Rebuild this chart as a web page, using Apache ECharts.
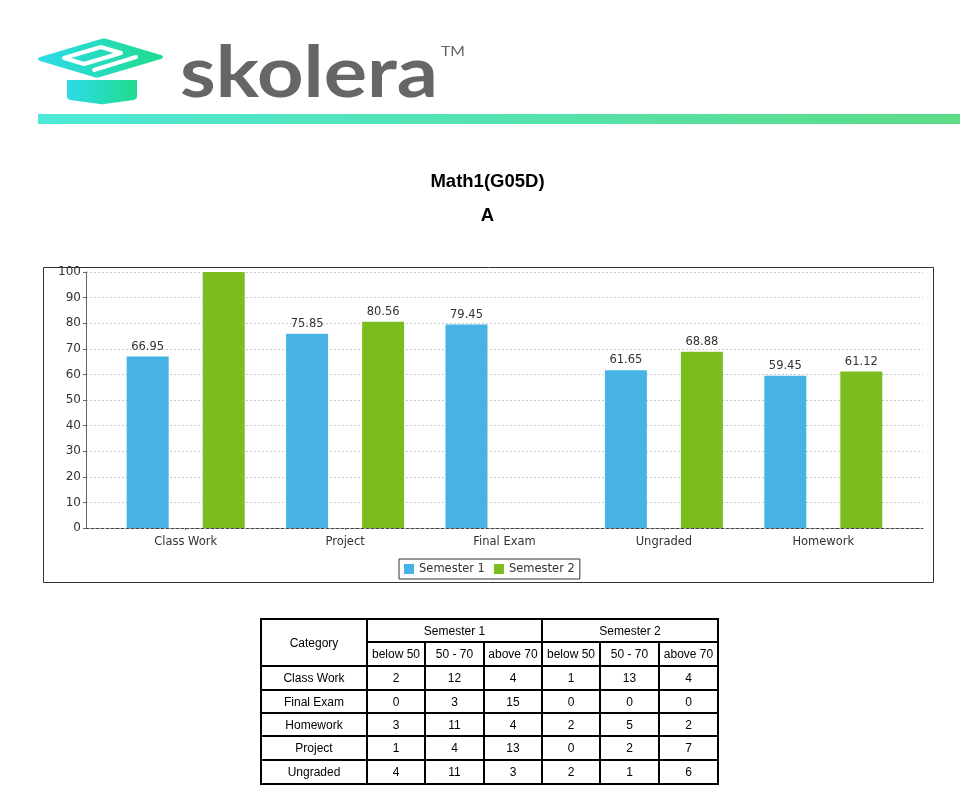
<!DOCTYPE html>
<html>
<head>
<meta charset="utf-8">
<script src="https://cdn.jsdelivr.net/npm/echarts/dist/echarts.min.js"></script>
<style>
  html, body { margin: 0; padding: 0; background: #fff; }
  #page { position: relative; width: 975px; height: 807px; overflow: hidden; }
  #chart { position: absolute; left: 0; top: 0; width: 975px; height: 807px; }
  #logo { position: absolute; left: 0; top: 0; width: 975px; height: 130px; }
  #tbl { position: absolute; left: 260px; top: 618px; border-collapse: collapse; table-layout: fixed;
         font-family: "Liberation Sans", Arial, sans-serif; font-size: 12px; color: #000; }
  #tbl td { border: 2px solid #000; text-align: center; padding: 0; font-weight: normal; }
</style>
</head>
<body>
<div id="page">
  <div id="chart"></div>
  <svg id="logo" width="975" height="130" xmlns="http://www.w3.org/2000/svg">
    <defs>
      <linearGradient id="capg" x1="0" y1="0" x2="1" y2="0">
        <stop offset="0" stop-color="#2ddbe9"/>
        <stop offset="1" stop-color="#1fdc8e"/>
      </linearGradient>
      <linearGradient id="barg" x1="0" y1="0" x2="1" y2="0">
        <stop offset="0" stop-color="#4de8d8"/>
        <stop offset="1" stop-color="#5cdc86"/>
      </linearGradient>
    </defs>
    <path d="M40 57 L101 39 Q104 38 107 39 L161 55 Q165 57 161 59 L100 77 Q97 78 94 77 L40 61 Q36 59 40 57 Z" fill="url(#capg)"/>
    <path d="M64 58 L101 47 L121 53 L84 64 Z" fill="none" stroke="#fff" stroke-width="4" stroke-linejoin="round"/>
    <path d="M94 70 L136 57" fill="none" stroke="#fff" stroke-width="4" stroke-linecap="round"/>
    <path d="M67 80 L137 80 L137 97 Q137 99 134 100 L104 104 Q102 104.5 100 104 L70 100 Q67 99 67 97 Z" fill="url(#capg)"/>
    <text x="180" y="97" font-family="Lato, 'Open Sans', sans-serif" font-weight="bold" font-size="70" fill="#666" textLength="258" lengthAdjust="spacingAndGlyphs">skolera</text>
    <text x="441" y="56" font-family="Lato, 'Open Sans', sans-serif" font-size="14" fill="#666" textLength="24" lengthAdjust="spacingAndGlyphs">TM</text>
    <rect x="38" y="114" width="922" height="10" fill="url(#barg)"/>
  </svg>
  <table id="tbl"></table>
</div>
<script>
// ---- chart data ----
const categories = ['Class Work', 'Project', 'Final Exam', 'Ungraded', 'Homework'];
const semester1 = [66.95, 75.85, 79.45, 61.65, 59.45];
const semester2 = [100, 80.56, null, 68.88, 61.12];
const seriesNames = ['Semester 1', 'Semester 2'];
const titleMain = 'Math1(G05D)';
const titleSub = 'A';

// ---- table data ----
const tableCategories = ['Class Work', 'Final Exam', 'Homework', 'Project', 'Ungraded'];
const bandLabels = ['below 50', '50 - 70', 'above 70'];
const s1Below50 = [2, 0, 3, 1, 4];
const s1Mid = [12, 3, 11, 4, 11];
const s1Above70 = [4, 15, 4, 13, 3];
const s2Below50 = [1, 0, 2, 0, 2];
const s2Mid = [13, 0, 5, 2, 1];
const s2Above70 = [4, 0, 2, 7, 6];

// build table
(function () {
  const colW = [106, 58, 59, 58, 58, 59, 59];
  const rowH = [23, 24, 24, 23, 23, 24, 24];
  let h = '<colgroup>' + colW.map(w => '<col style="width:' + w + 'px">').join('') + '</colgroup>';
  h += '<tr style="height:' + rowH[0] + 'px"><td rowspan="2">Category</td>' +
       '<td colspan="3">' + seriesNames[0] + '</td><td colspan="3">' + seriesNames[1] + '</td></tr>';
  h += '<tr style="height:' + rowH[1] + 'px">' + bandLabels.concat(bandLabels).map(b => '<td>' + b + '</td>').join('') + '</tr>';
  tableCategories.forEach((c, i) => {
    const vals = [s1Below50[i], s1Mid[i], s1Above70[i], s2Below50[i], s2Mid[i], s2Above70[i]];
    h += '<tr style="height:' + rowH[i + 2] + 'px"><td>' + c + '</td>' + vals.map(v => '<td>' + v + '</td>').join('') + '</tr>';
  });
  const t = document.getElementById('tbl');
  t.innerHTML = h;
  t.style.width = colW.reduce((a, b) => a + b, 0) + 'px';
})();

const chart = echarts.init(document.getElementById('chart'), null, { renderer: 'canvas' });
const font = 'DejaVu Sans';
const fs = 11.5;
const mk = arr => arr.map(v => v == null ? null : { value: v, label: { show: v < 100 } });

chart.setOption({
  animation: false,
  backgroundColor: '#fff',
  graphic: [
    { type: 'text', left: 'center', top: 172, style: { text: titleMain, font: 'bold 18.5px "Liberation Sans", Arial', fill: '#000' } },
    { type: 'text', left: 'center', top: 206, style: { text: titleSub, font: 'bold 18.5px "Liberation Sans", Arial', fill: '#000' } },
    { type: 'rect', shape: { x: 43.5, y: 267.5, width: 890, height: 315 }, style: { fill: 'none', stroke: '#333', lineWidth: 1 }, z: 100 }
  ],
  legend: {
    data: seriesNames,
    left: 399, top: 559,
    borderColor: '#333', borderWidth: 1,
    padding: [4, 5],
    itemWidth: 10, itemHeight: 10, itemGap: 9,
    icon: 'rect',
    textStyle: { fontFamily: font, fontSize: fs, color: '#333' }
  },
  grid: [
    { left: 86, top: 272, width: 837, height: 256 },
    { left: 106, top: 272, width: 797, height: 256 }
  ],
  xAxis: [
    { type: 'value', gridIndex: 0, min: 0, max: 1, axisLabel: { show: false }, axisTick: { show: false }, splitLine: { show: false },
      axisLine: { show: true, lineStyle: { color: '#444', type: [3, 2], width: 1 } } },
    { type: 'category', gridIndex: 1, data: categories, boundaryGap: true,
      axisLine: { show: false }, axisTick: { show: true, alignWithLabel: true, length: 2, lineStyle: { color: '#666' } },
      axisLabel: { fontFamily: font, fontSize: fs, color: '#333', margin: 8 } }
  ],
  yAxis: [
    { type: 'value', gridIndex: 0, min: 0, max: 100, interval: 10,
      axisLine: { show: true, lineStyle: { color: '#666', width: 1 } },
      axisTick: { show: true, length: 3, lineStyle: { color: '#666' } },
      axisLabel: { fontFamily: font, fontSize: 12, color: '#333', margin: 5 },
      splitLine: { show: true, lineStyle: { color: '#c8c8c8', type: [2, 2], width: 1 } } },
    { type: 'value', gridIndex: 1, min: 0, max: 100, show: false, splitLine: { show: false } }
  ],
  series: [
    { name: seriesNames[0], type: 'bar', xAxisIndex: 1, yAxisIndex: 1, data: mk(semester1),
      barWidth: 42, barGap: '81%', itemStyle: { color: '#47b3e5' },
      label: { show: true, position: 'top', distance: 4, fontFamily: font, fontSize: fs, color: '#333' } },
    { name: seriesNames[1], type: 'bar', xAxisIndex: 1, yAxisIndex: 1, data: mk(semester2),
      barWidth: 42, barGap: '81%', itemStyle: { color: '#7bbd1f' },
      label: { show: true, position: 'top', distance: 4, fontFamily: font, fontSize: fs, color: '#333' } }
  ]
});
</script>
</body>
</html>
